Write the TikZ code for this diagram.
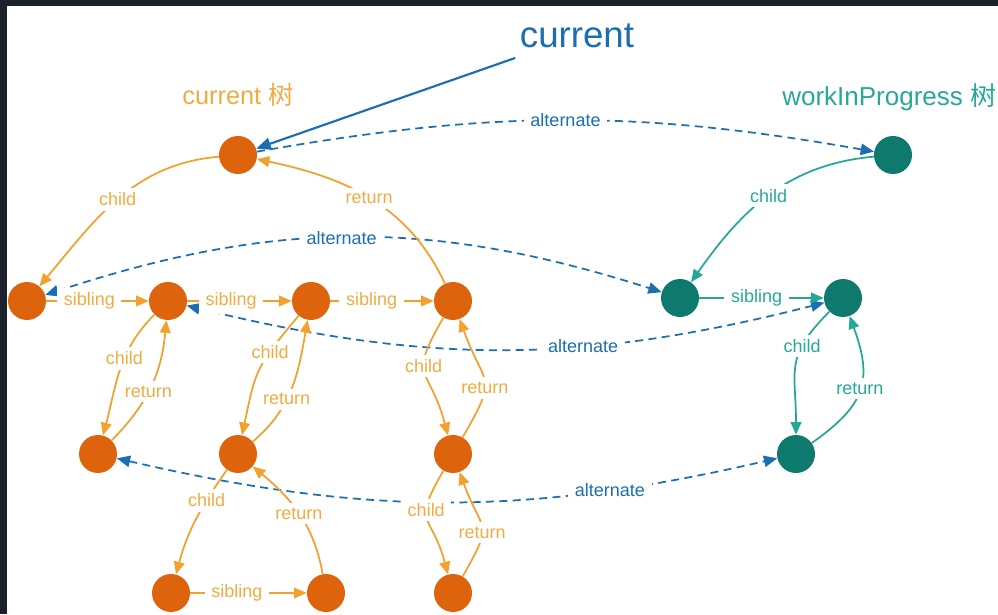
\documentclass[tikz,border=0pt]{standalone}
\usepackage{fontspec}
\setmainfont{Liberation Sans}
\newfontfamily\cjk{Noto Sans CJK SC}
\usetikzlibrary{arrows.meta}

\definecolor{framegray}{RGB}{27,32,42}
\definecolor{curnode}{RGB}{221,99,12}
\definecolor{curline}{RGB}{243,160,45}
\definecolor{curtext}{RGB}{240,172,66}
\definecolor{wipnode}{RGB}{14,122,110}
\definecolor{wipline}{RGB}{34,168,148}
\definecolor{wiptext}{RGB}{40,168,150}
\definecolor{altblue}{RGB}{28,110,178}

\begin{document}
\begin{tikzpicture}[x=0.75pt, y=0.75pt,
  curfib/.style={circle, fill=curnode, minimum size=28.5pt, inner sep=0pt},
  wipfib/.style={curfib, fill=wipnode},
  lbl/.style={fill=white, inner xsep=5pt, inner ysep=3.5pt, font=\fontsize{13.5}{16}\selectfont},
  curlbl/.style={lbl, text=curtext},
  wiplbl/.style={lbl, text=wiptext},
  altlbl/.style={lbl, text=altblue},
  curedge/.style={draw=curline, line width=1.3pt, -{Triangle[length=9.5pt,width=8pt]}},
  wipedge/.style={curedge, draw=wipline},
  altedge/.style={draw=altblue, line width=1.3pt, dash pattern=on 6pt off 4pt,
    >={Triangle[length=10pt,width=8.5pt]}}]
  % frame
  \fill[framegray] (0,0) rectangle (998,614);
  \fill[white] (7,0) rectangle (998,608);
  \useasboundingbox (0,0) rectangle (998,614);

  % titles
  \node[text=altblue, font=\fontsize{27.5}{30}\selectfont, inner sep=7pt, anchor=base] (cur) at (577,566) {current};
  \node[text=curtext, font=\fontsize{19}{21}\selectfont, inner sep=0pt, anchor=base] (curtree) at (238,509) {current {\cjk 树}};
  \node[text=wiptext, font=\fontsize{19.5}{21}\selectfont, inner sep=0pt, anchor=base west] (wiptree) at (782,508) {workInProgress {\cjk 树}};

  % current tree
  \node[curfib] (r0) at (238,459) {};
  \node[curfib] (a1) at (27,313) {};
  \node[curfib] (a2) at (168,313) {};
  \node[curfib] (a3) at (311,313) {};
  \node[curfib] (a4) at (453,313) {};
  \node[curfib] (b1) at (98,160) {};
  \node[curfib] (b2) at (238,160) {};
  \node[curfib] (b3) at (453,160) {};
  \node[curfib] (c1) at (171,21) {};
  \node[curfib] (c2) at (326,21) {};
  \node[curfib] (c3) at (453,21) {};

  % workInProgress tree
  \node[wipfib] (w0) at (893,459) {};
  \node[wipfib] (wa1) at (680,316) {};
  \node[wipfib] (wa2) at (843,316) {};
  \node[wipfib] (wb1) at (796,160) {};

  % alternate
  \draw[draw=altblue, line width=1.6pt, -{Triangle[length=11pt,width=9pt]}] (cur) -- (r0);
  \draw[altedge, ->] (r0) to[bend left=10] node[altlbl] {alternate} (w0);
  \draw[altedge, <->] (a1) to[bend left=18] node[altlbl, pos=0.48] {alternate} (wa1);
  \draw[altedge, <->] (a2) to[bend right=14] node[altlbl, pos=0.63] {alternate} (wa2);
  \draw[altedge, <->] (b1) to[bend right=13] node[altlbl, pos=0.76] {alternate} (wb1);

  % current tree links
  \draw[curedge] (r0) to[out=185, in=50] node[curlbl] {child} (a1);
  \draw[curedge] (a4) to[out=115, in=-12] node[curlbl] {return} (r0);
  \draw[curedge] (a1) -- node[curlbl, pos=0.42] {sibling} (a2);
  \draw[curedge] (a2) -- node[curlbl, pos=0.42] {sibling} (a3);
  \draw[curedge] (a3) -- node[curlbl, pos=0.4] {sibling} (a4);
  \draw[curedge] (a2) to[out=225, in=75] node[curlbl, pos=0.4] {child} (b1);
  \draw[curedge] (b1) to[out=45, in=-95] node[curlbl, pos=0.45] {return} (a2);
  \draw[curedge] (a3) to[out=230, in=78, looseness=1.3] node[curlbl, pos=0.3] {child} (b2);
  \draw[curedge] (b2) to[out=40, in=-100] node[curlbl, pos=0.4] {return} (a3);
  \draw[curedge] (a4) to[out=240, in=105, looseness=1.6] node[curlbl, pos=0.4] {child} (b3);
  \draw[curedge] (b3) to[out=60, in=-70, looseness=1.6] node[curlbl, pos=0.4] {return} (a4);
  \draw[curedge] (b2) to[out=235, in=75] node[curlbl, pos=0.3] {child} (c1);
  \draw[curedge] (c2) to[out=100, in=-40] node[curlbl] {return} (b2);
  \draw[curedge] (c1) -- node[curlbl, pos=0.4] {sibling} (c2);
  \draw[curedge] (b3) to[out=240, in=105, looseness=1.6] node[curlbl, pos=0.35] {child} (c3);
  \draw[curedge] (c3) to[out=60, in=-70, looseness=1.6] node[curlbl, pos=0.4] {return} (b3);

  % workInProgress tree links
  \draw[wipedge] (w0) to[out=185, in=55] node[wiplbl] {child} (wa1);
  \draw[wipedge] (wa1) -- node[wiplbl, pos=0.46] {sibling} (wa2);
  \draw[wipedge] (wa2) to[out=225, in=90, looseness=1.3] node[wiplbl, pos=0.3] {child} (wb1);
  \draw[wipedge] (wb1) to[out=35, in=-70, looseness=1.3] node[wiplbl] {return} (wa2);
\end{tikzpicture}
\end{document}
